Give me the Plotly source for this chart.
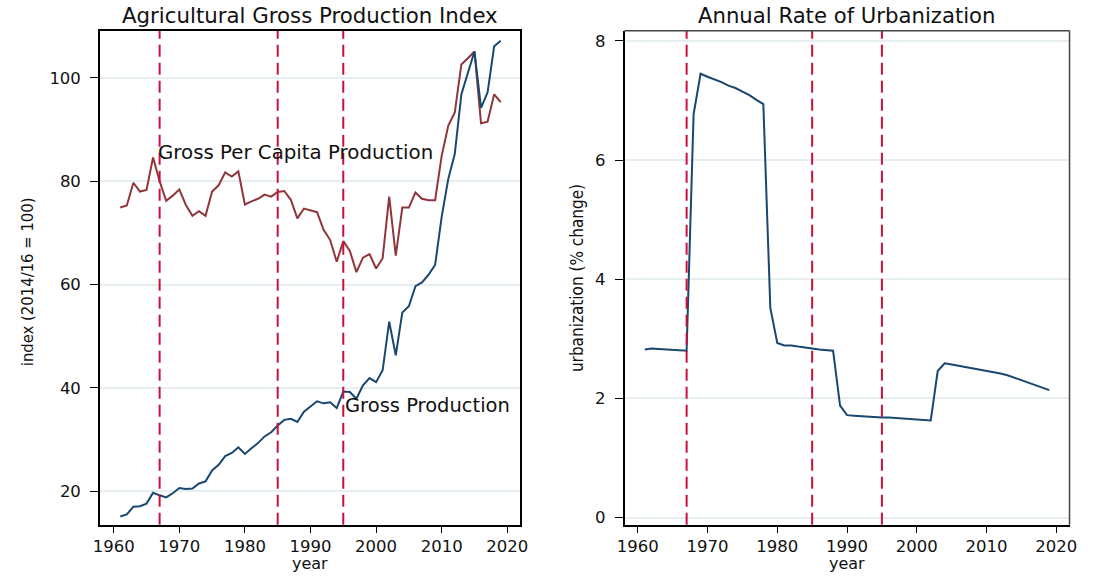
import plotly.graph_objects as go

years = list(range(1961, 2020))

gross_production = [
    15.1, 15.5, 17.0, 17.1, 17.6, 19.7, 19.2, 18.8, 19.6, 20.6,
    20.4, 20.5, 21.5, 21.9, 24.0, 25.1, 26.8, 27.4, 28.5, 27.2,
    28.3, 29.3, 30.6, 31.4, 32.7, 33.8, 34.0, 33.4, 35.4, 36.4,
    37.4, 37.0, 37.2, 36.1, 39.3, 39.2, 37.9, 40.5, 41.9, 41.1,
    43.4, 52.8, 46.3, 54.6, 55.8, 59.7, 60.4, 61.9, 63.8, 73.1,
    80.4, 85.3, 96.8, 101.0, 105.1, 94.2, 97.2, 106.1, 107.2,
]

per_capita_production = [
    74.9, 75.3, 79.7, 78.0, 78.3, 84.6, 80.0, 76.2, 77.2, 78.4,
    75.4, 73.3, 74.2, 73.3, 78.0, 79.2, 81.7, 80.9, 81.9, 75.5,
    76.1, 76.6, 77.4, 77.0, 77.9, 78.1, 76.4, 72.8, 74.7, 74.3,
    74.0, 70.6, 68.6, 64.4, 68.4, 66.5, 62.4, 65.2, 65.9, 63.1,
    65.1, 77.0, 65.6, 74.9, 74.9, 77.8, 76.6, 76.3, 76.3, 84.9,
    90.7, 93.3, 102.6, 103.8, 105.1, 91.2, 91.5, 96.8, 95.3,
]

urbanization = [
    2.82, 2.84, 2.83, 2.82, 2.81, 2.80, 2.80, 6.77, 7.45, 7.40,
    7.36, 7.31, 7.25, 7.21, 7.15, 7.09, 7.01, 6.94, 3.52, 2.93,
    2.89, 2.89, 2.87, 2.86, 2.84, 2.82, 2.81, 2.80, 1.88, 1.72,
    1.71, 1.70, 1.69, 1.69, 1.68, 1.68, 1.67, 1.66, 1.65, 1.64,
    1.63, 1.63, 2.46, 2.59, 2.57, 2.55, 2.53, 2.51, 2.48, 2.46,
    2.44, 2.42, 2.39, 2.35, 2.31, 2.27, 2.23, 2.19, 2.14,
]

event_years = [1967, 1985, 1995]
x_ticks = [1960, 1970, 1980, 1990, 2000, 2010, 2020]
left_y_ticks = [20, 40, 60, 80, 100]
right_y_ticks = [0, 2, 4, 6, 8]

W, H = 1093, 577
BLUE = "#1a476f"
MAROON = "#90353b"
DASH = "#c8103c"
GRID = "#e6eef1"
FONT = "DejaVu Sans"
NARROW = "Liberation Sans Narrow, DejaVu Sans Condensed, Arial Narrow, sans-serif"

def px_x(p):
    return p / W

def px_y(p):
    return 1 - p / H

fig = go.Figure()
fig.add_trace(go.Scatter(x=years, y=per_capita_production, mode="lines",
                         line=dict(color=MAROON, width=2), xaxis="x", yaxis="y",
                         showlegend=False))
fig.add_trace(go.Scatter(x=years, y=gross_production, mode="lines",
                         line=dict(color=BLUE, width=2), xaxis="x", yaxis="y",
                         showlegend=False))
fig.add_trace(go.Scatter(x=years, y=urbanization, mode="lines",
                         line=dict(color=BLUE, width=2), xaxis="x2", yaxis="y2",
                         showlegend=False))

shapes = []
for xr, yr in (("x", "y domain"), ("x2", "y2 domain")):
    for ey in event_years:
        shapes.append(dict(type="line", xref=xr, yref=yr, x0=ey, x1=ey, y0=0, y1=1,
                           line=dict(color=DASH, width=2, dash="12px,6px"), layer="above"))
# right panel top/right frame in dark gray
shapes.append(dict(type="line", xref="x2 domain", yref="y2 domain", x0=0, x1=1, y0=1, y1=1,
                   line=dict(color="#444444", width=1.5)))
shapes.append(dict(type="line", xref="x2 domain", yref="y2 domain", x0=1, x1=1, y0=0, y1=1,
                   line=dict(color="#444444", width=1.5)))

tickfont = dict(family=FONT, size=16.5, color="#111111")
common_x = dict(tickvals=x_ticks, ticks="outside", ticklen=6, tickcolor="black",
                showgrid=False, zeroline=False, showline=True, linecolor="black",
                linewidth=1.5, tickfont=tickfont)
common_y = dict(ticks="outside", ticklen=8, tickcolor="black", showgrid=True,
                gridcolor=GRID, gridwidth=1.5, zeroline=False, showline=True,
                linecolor="black", linewidth=1.5, tickfont=tickfont, ticklabelstandoff=6)

y_top, y_bot = px_y(31), px_y(527.5)

fig.update_layout(
    width=W, height=H,
    margin=dict(l=0, r=0, t=0, b=0),
    paper_bgcolor="white", plot_bgcolor="white",
    xaxis=dict(domain=[px_x(93.3), px_x(520)], range=[1957.9, 2022.0], mirror=True,
               anchor="y", **common_x),
    yaxis=dict(domain=[y_bot, y_top], range=[13.5, 109.1], tickvals=left_y_ticks,
               mirror=True, anchor="x", **common_y),
    xaxis2=dict(domain=[px_x(625.7), px_x(1077.3)], range=[1958.1, 2021.9],
                anchor="y2", **common_x),
    yaxis2=dict(domain=[y_bot, y_top], range=[-0.12, 8.17], tickvals=right_y_ticks,
                anchor="x2", **common_y),
    shapes=shapes,
    annotations=[
        dict(text="Agricultural Gross Production Index", xref="paper", yref="paper",
             x=px_x(306.7), y=px_y(16), xanchor="center", yanchor="middle",
             showarrow=False, font=dict(family=FONT, size=21.3, color="#111111")),
        dict(text="Annual Rate of Urbanization", xref="paper", yref="paper",
             x=px_x(851.5), y=px_y(16), xanchor="center", yanchor="middle",
             showarrow=False, font=dict(family=FONT, size=21.2, color="#111111")),
        dict(text="year", xref="paper", yref="paper", x=px_x(306.7), y=0,
             xanchor="center", yanchor="bottom", showarrow=False, borderpad=0,
             font=dict(family=FONT, size=16, color="#111111")),
        dict(text="year", xref="paper", yref="paper", x=px_x(851.5), y=0,
             xanchor="center", yanchor="bottom", showarrow=False, borderpad=0,
             font=dict(family=FONT, size=16, color="#111111")),
        dict(text="index (2014/16 = 100)", xref="paper", yref="paper", x=px_x(20),
             y=px_y(283), xanchor="center", yanchor="middle", textangle=-90,
             showarrow=False, font=dict(family=NARROW, size=16.5, color="#111111")),
        dict(text="urbanization (% change)", xref="paper", yref="paper", x=px_x(577),
             y=px_y(280), xanchor="center", yanchor="middle", textangle=-90,
             showarrow=False, font=dict(family=NARROW, size=17, color="#111111")),
        dict(text="Gross Per Capita Production", xref="x", yref="y", x=1966.4, y=85.6,
             xanchor="left", yanchor="middle", showarrow=False,
             font=dict(family=FONT, size=19.8, color="#111111")),
        dict(text="Gross Production", xref="x", yref="y", x=1995.0, y=36.5,
             xanchor="left", yanchor="middle", showarrow=False,
             font=dict(family=FONT, size=19.5, color="#111111")),
    ],
)

fig.write_html(
    "out.html",
    config={"displayModeBar": False},
    post_script="document.body.style.margin='0';document.body.style.padding='0';"
                "document.documentElement.style.overflow='hidden';",
)
